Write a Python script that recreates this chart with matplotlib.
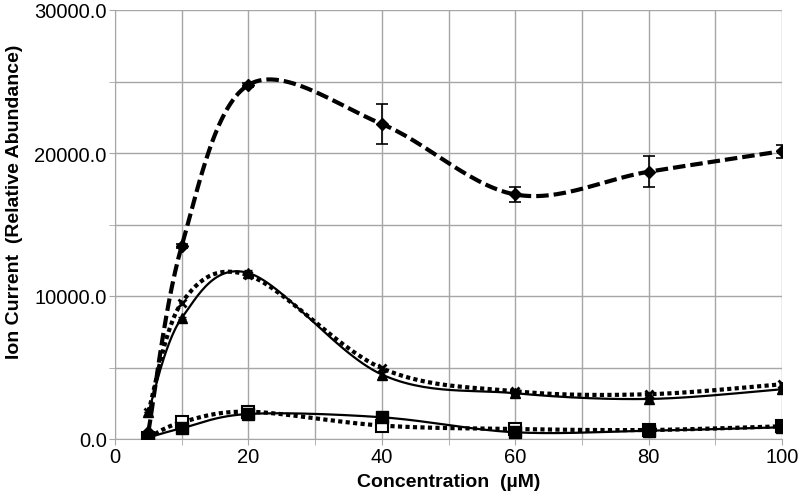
import numpy as np
import matplotlib
matplotlib.use('Agg')
import matplotlib.pyplot as plt
from matplotlib.ticker import MultipleLocator, FormatStrFormatter

# concentration (uM)
conc = [5, 10, 20, 40, 60, 80, 100]

# ion current series
diamond_dashed = [500, 13500, 24760, 22030, 17100, 18690, 20130]
diamond_err = [0, 150, 150, 1400, 550, 1070, 450]
tri_solid = [1900, 8460, 11610, 4510, 3200, 2800, 3480]
tri_solid_err = [0, 100, 200, 150, 100, 100, 100]
tri_dotted = [1900, 9530, 11450, 4950, 3340, 3130, 3830]
sq_solid = [100, 750, 1750, 1520, 470, 580, 820]
sq_dotted = [100, 1170, 1910, 940, 700, 630, 890]


def smooth(x, y, n=30):
    # excel-like bezier smoothing through the points
    p = np.column_stack([x, y]).astype(float)
    out = []
    for i in range(len(p) - 1):
        p0 = p[i - 1] if i > 0 else p[i]
        p1, p2 = p[i], p[i + 1]
        p3 = p[i + 2] if i + 2 < len(p) else p[i + 1]
        c1 = p1 + (p2 - p0) / 6
        c2 = p2 - (p3 - p1) / 6
        t = np.linspace(0, 1, n)[:, None]
        seg = (1 - t) ** 3 * p1 + 3 * (1 - t) ** 2 * t * c1 + 3 * (1 - t) * t ** 2 * c2 + t ** 3 * p2
        out.append(seg if i == 0 else seg[1:])
    s = np.vstack(out)
    return s[:, 0], s[:, 1]


plt.rcParams['font.family'] = ['Liberation Sans', 'DejaVu Sans']

fig = plt.figure(figsize=(8, 5.02), dpi=100)
ax = fig.add_axes([115 / 800, 1 - 440 / 502, 667 / 800, 429 / 502])

# lower pair (squares)
sx, sy = smooth(conc, sq_solid)
ax.plot(sx, sy, color='black', lw=1.6, zorder=3)
ax.plot(conc, sq_solid, 's', color='black', ms=8, zorder=5)
sx, sy = smooth(conc, sq_dotted)
ax.plot(sx, sy, color='black', lw=3, linestyle=(0, (1, 0.8)), zorder=3)
ax.plot(conc, sq_dotted, 's', mfc='white', mec='black', mew=1.5, ms=8, zorder=4)

# middle pair (triangles)
sx, sy = smooth(conc, tri_solid)
ax.plot(sx, sy, color='black', lw=1.6, zorder=3)
ax.errorbar(conc, tri_solid, yerr=tri_solid_err, fmt='^', color='black', ms=7,
            elinewidth=1, capsize=3, zorder=5)
sx, sy = smooth(conc, tri_dotted)
ax.plot(sx, sy, color='black', lw=3, linestyle=(0, (1, 0.8)), zorder=3)
ax.plot(conc, tri_dotted, 'x', color='black', ms=6, mew=2, zorder=5)

# top series (diamonds, dashed)
sx, sy = smooth(conc, diamond_dashed)
ax.plot(sx, sy, color='black', lw=3, linestyle=(0, (3, 1.2)), zorder=3)
ax.errorbar(conc, diamond_dashed, yerr=diamond_err, fmt='D', color='black', ms=6,
            elinewidth=1.2, capsize=4, capthick=1.2, zorder=5)

ax.set_xlim(0, 100)
ax.set_ylim(0, 30000)
ax.xaxis.set_major_locator(MultipleLocator(20))
ax.xaxis.set_minor_locator(MultipleLocator(10))
ax.yaxis.set_major_locator(MultipleLocator(10000))
ax.yaxis.set_minor_locator(MultipleLocator(5000))
ax.yaxis.set_major_formatter(FormatStrFormatter('%.1f'))
ax.grid(True, which='both', color='#a6a6a6', lw=1)
ax.set_axisbelow(True)
for s in ['top', 'right']:
    ax.spines[s].set_visible(False)
for s in ['left', 'bottom']:
    ax.spines[s].set_color('#a6a6a6')
ax.tick_params(which='both', color='#a6a6a6', length=4, labelsize=14.5, pad=2)

ax.set_xlabel('Concentration  (\u00b5M)', fontsize=14, fontweight='bold', labelpad=5)
fig.text(15 / 800, 1 - 202 / 502, 'Ion Current  (Relative Abundance)', fontsize=14,
         fontweight='bold', rotation=90, ha='center', va='center')

fig.savefig('out.png', dpi=100)
